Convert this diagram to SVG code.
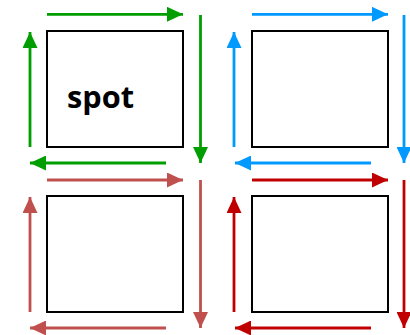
<svg xmlns="http://www.w3.org/2000/svg" width="410" height="335" viewBox="0 0 410 335">
<style>
.box{fill:#fff;stroke:#000;stroke-width:2}
.a{stroke-width:2.8;fill:none}
.g{stroke:#009e00}.b{stroke:#0099ff}.r{stroke:#c0504d}.d{stroke:#c00000}
.lbl{font-family:"Open Sans","Liberation Sans",sans-serif;font-weight:bold;font-size:31px;fill:#000}
</style>
<defs>
<marker id="mg" viewBox="0 0 16 15" refX="16" refY="7.5" markerUnits="userSpaceOnUse" markerWidth="16" markerHeight="15" orient="auto"><path d="M0,0L16,7.5L0,15z" fill="#009e00"/></marker>
<marker id="mb" viewBox="0 0 16 15" refX="16" refY="7.5" markerUnits="userSpaceOnUse" markerWidth="16" markerHeight="15" orient="auto"><path d="M0,0L16,7.5L0,15z" fill="#0099ff"/></marker>
<marker id="mr" viewBox="0 0 16 15" refX="16" refY="7.5" markerUnits="userSpaceOnUse" markerWidth="16" markerHeight="15" orient="auto"><path d="M0,0L16,7.5L0,15z" fill="#c0504d"/></marker>
<marker id="md" viewBox="0 0 16 15" refX="16" refY="7.5" markerUnits="userSpaceOnUse" markerWidth="16" markerHeight="15" orient="auto"><path d="M0,0L16,7.5L0,15z" fill="#c00000"/></marker>
</defs>
<g id="node-tl"><rect class="box" x="47" y="31" width="136" height="116"/><text class="lbl" x="67" y="108" textLength="67" lengthAdjust="spacingAndGlyphs">spot</text></g>
<g id="node-tr"><rect class="box" x="252" y="31" width="136" height="116"/></g>
<g id="node-bl"><rect class="box" x="47" y="196" width="136" height="116"/></g>
<g id="node-br"><rect class="box" x="252" y="196" width="136" height="116"/></g>
<g id="connectors">
<path class="a g" d="M47,14.3H183" marker-end="url(#mg)"/>
<path class="a g" d="M200.5,15V163" marker-end="url(#mg)"/>
<path class="a g" d="M166,163H30" marker-end="url(#mg)"/>
<path class="a g" d="M30,147V32" marker-end="url(#mg)"/>
<path class="a b" d="M252,14.3H388" marker-end="url(#mb)"/>
<path class="a b" d="M404,15V163" marker-end="url(#mb)"/>
<path class="a b" d="M371,163H235" marker-end="url(#mb)"/>
<path class="a b" d="M234,147V32" marker-end="url(#mb)"/>
<path class="a r" d="M47,180H183" marker-end="url(#mr)"/>
<path class="a r" d="M200.5,180V328" marker-end="url(#mr)"/>
<path class="a r" d="M166,328H30" marker-end="url(#mr)"/>
<path class="a r" d="M30,312V197" marker-end="url(#mr)"/>
<path class="a d" d="M252,180H388" marker-end="url(#md)"/>
<path class="a d" d="M404,180V328" marker-end="url(#md)"/>
<path class="a d" d="M371,328H235" marker-end="url(#md)"/>
<path class="a d" d="M234,312V197" marker-end="url(#md)"/>
</g>
</svg>
